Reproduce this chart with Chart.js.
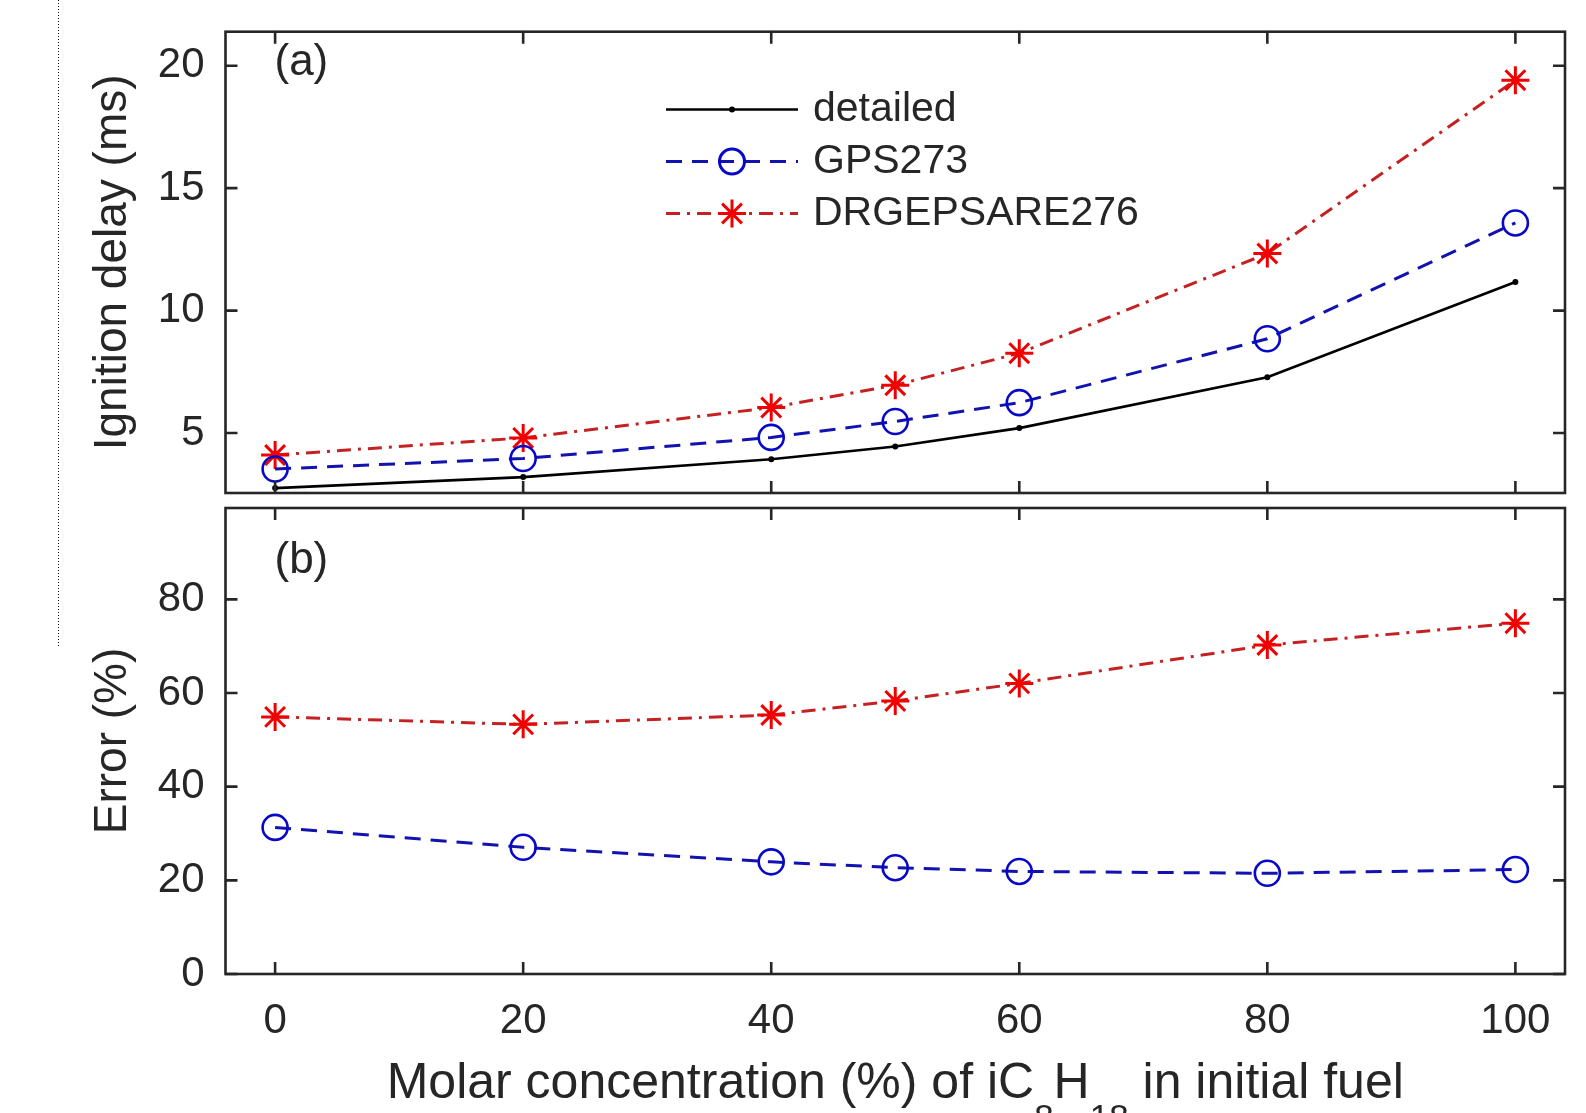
<!DOCTYPE html>
<html>
<head>
<meta charset="utf-8">
<script src="https://cdn.jsdelivr.net/npm/chart.js"></script>
<style>
  html, body { margin: 0; padding: 0; background: #fff; }
  body { position: relative; width: 1586px; height: 1113px; overflow: hidden; }
  canvas { position: absolute; left: 0; }
  #delayChart { top: 0; }
  #errorChart { top: 500px; }
  .marginRule {
    position: absolute; left: 58px; top: 0; width: 1px; height: 648px;
    background: repeating-linear-gradient(to bottom, #111 0 1.5px, transparent 1.5px 3px);
  }
</style>
</head>
<body>
<div class="marginRule"></div>
<canvas id="delayChart" width="1586" height="500"></canvas>
<canvas id="errorChart" width="1586" height="613"></canvas>
<script>
// iC8H18 share in the fuel blend (%)
const molarPct = [0, 20, 40, 50, 60, 80, 100];

// (a) ignition delay, ms
const delayDetailed = [2.75, 3.2, 3.93, 4.45, 5.2, 7.28, 11.17];
const delayGps = [3.53, 3.96, 4.82, 5.47, 6.24, 8.85, 13.58];
const delayDrgep = [4.1, 4.8, 6.04, 6.95, 8.26, 12.33, 19.41];

// (b) error against detailed mechanism, %
const errGps = [31.3, 27.05, 23.95, 22.7, 21.9, 21.5, 22.3];
const errDrgep = [54.9, 53.3, 55.3, 58.3, 62.05, 70.25, 74.9];

const xTicks = [0, 20, 40, 60, 80, 100];
const delayTicks = [5, 10, 15, 20];
const errTicks = [0, 20, 40, 60, 80];

const FONT = '"Liberation Sans", Arial, Helvetica, sans-serif';
const INK = '#262626';

const styles = {
  detailed: {
    borderColor: '#000', borderWidth: 2.6, pointStyle: 'circle', pointRadius: 3,
    pointBackgroundColor: '#000', pointBorderColor: '#000', pointBorderWidth: 0
  },
  gps: {
    borderColor: '#1212b0', borderWidth: 3, borderDash: [16, 10], pointStyle: 'circle', pointRadius: 12.5,
    pointBackgroundColor: 'rgba(0,0,0,0)', pointBorderColor: '#0808c8', pointBorderWidth: 2.6
  },
  drgep: {
    borderColor: '#c42222', borderWidth: 3, borderDash: [14, 7, 3, 7], pointStyle: 'star', pointRadius: 14,
    pointBackgroundColor: '#f00000', pointBorderColor: '#f00000', pointBorderWidth: 3
  }
};

function series(label, values, style) {
  return Object.assign({
    label: label,
    data: molarPct.map((x, i) => ({ x: x, y: values[i] })),
    tension: 0,
    fill: false
  }, style);
}

function fixedTicks(list) {
  return function (scale) { scale.ticks = list.map(v => ({ value: v })); };
}

// boxed axes with inward ticks on all four sides, plus the panel tag
const matlabAxes = {
  id: 'matlabAxes',
  afterDraw(chart, args, opts) {
    const { ctx, chartArea: a, scales } = chart;
    const len = 12;
    ctx.save();
    ctx.strokeStyle = INK;
    ctx.lineWidth = 2.6;
    ctx.setLineDash([]);
    ctx.strokeRect(a.left, a.top, a.right - a.left, a.bottom - a.top);
    ctx.beginPath();
    scales.x.ticks.forEach(t => {
      const px = scales.x.getPixelForValue(t.value);
      ctx.moveTo(px, a.bottom); ctx.lineTo(px, a.bottom - len);
      ctx.moveTo(px, a.top); ctx.lineTo(px, a.top + len);
    });
    scales.y.ticks.forEach(t => {
      const py = scales.y.getPixelForValue(t.value);
      ctx.moveTo(a.left, py); ctx.lineTo(a.left + len, py);
      ctx.moveTo(a.right, py); ctx.lineTo(a.right - len, py);
    });
    ctx.stroke();
    ctx.fillStyle = INK;
    ctx.font = '44px ' + FONT;
    ctx.textAlign = 'left';
    ctx.textBaseline = 'middle';
    ctx.fillText(opts.tag, a.left + 49, a.top + opts.tagDy);
    ctx.restore();
  }
};

// legend drawn as line sample + marker, no box
const lineLegend = {
  id: 'lineLegend',
  afterDraw(chart, args, opts) {
    if (!opts.show) return;
    const ctx = chart.ctx;
    ctx.save();
    chart.data.datasets.forEach((ds, i) => {
      const y = opts.rows[i];
      ctx.strokeStyle = ds.borderColor;
      ctx.lineWidth = ds.borderWidth;
      ctx.setLineDash(ds.borderDash || []);
      ctx.beginPath();
      ctx.moveTo(opts.x0, y);
      ctx.lineTo(opts.x1, y);
      ctx.stroke();
      ctx.setLineDash([]);
      ctx.strokeStyle = ds.pointBorderColor;
      ctx.fillStyle = ds.pointBackgroundColor;
      Chart.helpers.drawPoint(ctx, {
        pointStyle: ds.pointStyle, rotation: 0, radius: ds.pointRadius, borderWidth: ds.pointBorderWidth
      }, (opts.x0 + opts.x1) / 2, y);
      ctx.fillStyle = INK;
      ctx.font = opts.size + 'px ' + FONT;
      ctx.textAlign = 'left';
      ctx.textBaseline = 'middle';
      ctx.fillText(ds.label, opts.textX, y);
    });
    ctx.restore();
  }
};

// x title with chemical subscripts
const subscriptTitle = {
  id: 'subscriptTitle',
  afterDraw(chart, args, opts) {
    if (!opts.parts) return;
    const { ctx, chartArea: a } = chart;
    const small = Math.round(opts.size * 0.7);
    ctx.save();
    ctx.fillStyle = INK;
    ctx.textAlign = 'left';
    ctx.textBaseline = 'alphabetic';
    const parts = opts.parts.map(p => {
      ctx.font = (p.sub ? small : opts.size) + 'px ' + FONT;
      return { text: p.text, sub: p.sub, w: ctx.measureText(p.text).width };
    });
    const total = parts.reduce((s, p) => s + p.w, 0);
    let x = (a.left + a.right) / 2 - total / 2;
    parts.forEach(p => {
      ctx.font = (p.sub ? small : opts.size) + 'px ' + FONT;
      ctx.fillText(p.text, x, opts.baseline + (p.sub ? opts.drop : 0));
      x += p.w;
    });
    ctx.restore();
  }
};

function yAxis(min, max, ticks, title) {
  return {
    type: 'linear', position: 'left', min: min, max: max,
    afterBuildTicks: fixedTicks(ticks),
    afterFit: s => { s.width = 225.5; s.paddingTop = 0; s.paddingBottom = 0; },
    grid: { display: false, drawTicks: false }, border: { display: false },
    ticks: { color: INK, padding: 21, font: { family: FONT, size: 42 } },
    title: {
      display: true, text: title, color: INK,
      font: { family: FONT, size: 46 }, padding: { top: 86, bottom: 0 }
    }
  };
}

function xAxis(showLabels, height) {
  return {
    type: 'linear', position: 'bottom', min: -4, max: 104,
    afterBuildTicks: fixedTicks(xTicks),
    afterFit: s => { s.height = height; s.paddingLeft = 0; s.paddingRight = 0; },
    grid: { display: false, drawTicks: false }, border: { display: false },
    ticks: { display: showLabels, color: INK, padding: 22.5, font: { family: FONT, size: 42 } }
  };
}

const commonOpts = {
  responsive: false,
  animation: false,
  events: [],
  devicePixelRatio: 1
};

new Chart(document.getElementById('delayChart'), {
  type: 'line',
  data: {
    datasets: [
      series('detailed', delayDetailed, styles.detailed),
      series('GPS273', delayGps, styles.gps),
      series('DRGEPSARE276', delayDrgep, styles.drgep)
    ]
  },
  options: Object.assign({}, commonOpts, {
    layout: { autoPadding: false, padding: { left: 0, top: 31.7, right: 21, bottom: 7 } },
    scales: {
      x: xAxis(false, 0),
      y: yAxis(2.55, 21.39, delayTicks, 'Ignition delay (ms)')
    },
    plugins: {
      legend: { display: false },
      tooltip: { enabled: false },
      matlabAxes: { tag: '(a)', tagDy: 31 },
      lineLegend: { show: true, x0: 666, x1: 798, textX: 813, size: 41, rows: [109.5, 161.5, 213.5] },
      subscriptTitle: {}
    }
  }),
  plugins: [matlabAxes, lineLegend, subscriptTitle]
});

new Chart(document.getElementById('errorChart'), {
  type: 'line',
  data: {
    datasets: [
      series('GPS273', errGps, styles.gps),
      series('DRGEPSARE276', errDrgep, styles.drgep)
    ]
  },
  options: Object.assign({}, commonOpts, {
    layout: { autoPadding: false, padding: { left: 0, top: 8, right: 21, bottom: 0 } },
    scales: {
      x: xAxis(true, 139),
      y: yAxis(0, 99.5, errTicks, 'Error (%)')
    },
    plugins: {
      legend: { display: false },
      tooltip: { enabled: false },
      matlabAxes: { tag: '(b)', tagDy: 53 },
      lineLegend: { show: false },
      subscriptTitle: {
        size: 50, baseline: 598, drop: 31,
        parts: [
          { text: 'Molar concentration (%) of iC', sub: false },
          { text: '8', sub: true },
          { text: 'H', sub: false },
          { text: '18', sub: true },
          { text: ' in initial fuel', sub: false }
        ]
      }
    }
  }),
  plugins: [matlabAxes, lineLegend, subscriptTitle]
});
</script>
</body>
</html>
